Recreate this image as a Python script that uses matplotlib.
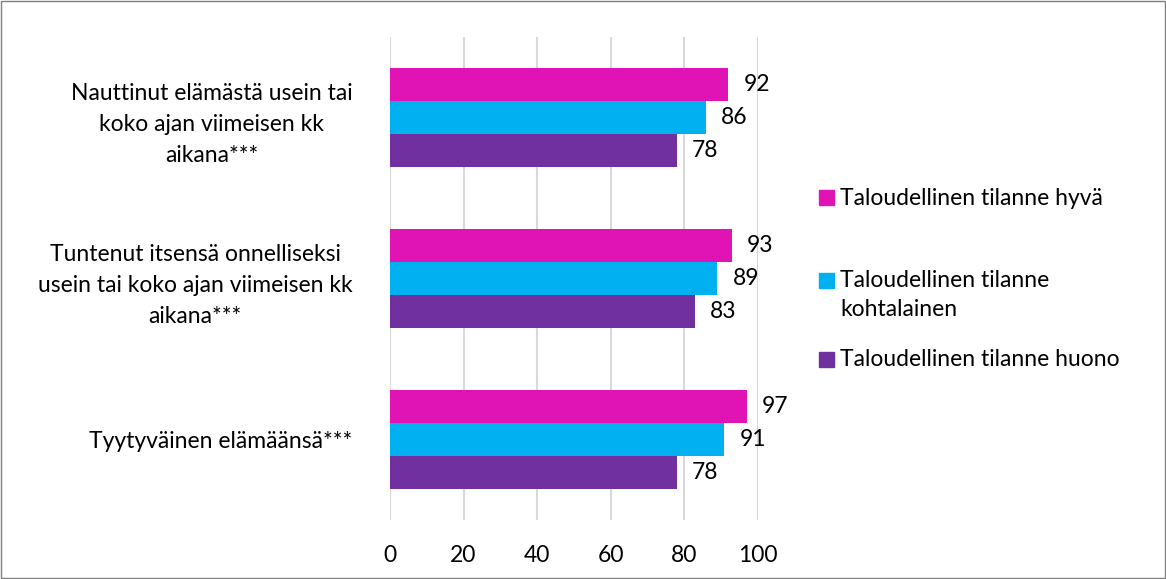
import numpy as np
import matplotlib.pyplot as plt
from matplotlib.patches import Rectangle

categories = [
    "Nauttinut elämästä usein tai\nkoko ajan viimeisen kk\naikana***",
    "Tuntenut itsensä onnelliseksi\nusein tai koko ajan viimeisen kk\naikana***",
    "Tyytyväinen elämäänsä***",
]
series_names = [
    "Taloudellinen tilanne hyvä",
    "Taloudellinen tilanne\nkohtalainen",
    "Taloudellinen tilanne huono",
]
good = [92, 93, 97]
moderate = [86, 89, 91]
poor = [78, 83, 78]
x_ticks = [0, 20, 40, 60, 80, 100]

colors = ["#E014B4", "#00B0F0", "#7030A0"]
FS = 16.5

plt.rcParams["font.family"] = ["Lato", "DejaVu Sans"]

fig = plt.figure(figsize=(11.66, 5.79), dpi=100)
ax = fig.add_axes([0.3345, 0.102, 0.3152, 0.834])

y = np.arange(len(categories))
bar_h = 0.205
offsets = [-bar_h, 0, bar_h]

for vals, off, col, name in zip([good, moderate, poor], offsets, colors, series_names):
    bars = ax.barh(y + off, vals, height=bar_h, color=col, label=name, zorder=3)
    ax.bar_label(bars, labels=[str(v) for v in vals], padding=11, fontsize=FS)

ax.set_xlim(0, 100)
ax.set_ylim(2.5, -0.5)
ax.set_xticks(x_ticks)
ax.set_xticklabels([str(t) for t in x_ticks], fontsize=FS)
ax.set_yticks(y)
ax.set_yticklabels(categories, fontsize=FS, multialignment="center", linespacing=1.6)
ax.tick_params(axis="both", length=0)
ax.tick_params(axis="y", pad=27)
ax.tick_params(axis="x", pad=18)
ax.grid(axis="x", color="#D9D9D9", linewidth=1.5, zorder=0)
for s in ax.spines.values():
    s.set_visible(False)

# legend drawn by hand so the marker sits on the first line of a wrapped label
W, H = 1166.0, 579.0
legend_rows = [198, 280, 359]
for name, col, ry in zip(series_names, colors, legend_rows):
    fig.patches.append(Rectangle((819 / W, 1 - (ry + 7.5) / H), 15 / W, 15 / H,
                                 transform=fig.transFigure, color=col))
    fig.text(840 / W, 1 - (ry - 10) / H, name, fontsize=FS, va="top",
             linespacing=1.5, transform=fig.transFigure)

fig.patches.append(Rectangle((0.001, 0.002), 0.998, 0.996, transform=fig.transFigure,
                             fill=False, edgecolor="#7F7F7F", linewidth=1))

fig.savefig("out.png", dpi=100)
